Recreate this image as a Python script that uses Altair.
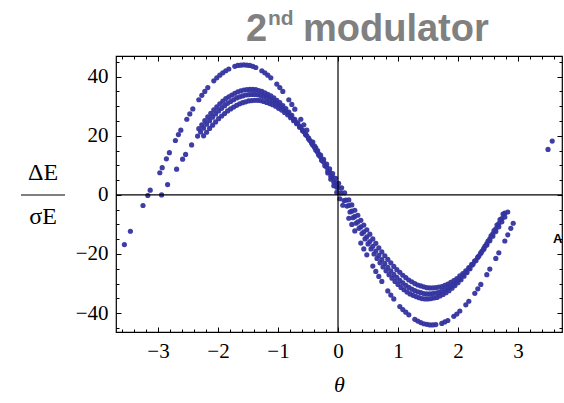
import altair as alt
import pandas as pd

# ---------------- data ----------------
# outer curve (largest amplitude)
OUTER_THETA = [-3.56, -3.46, -3.25, -3.17, -3.13,
               -2.97, -2.93, -2.86, -2.81, -2.71, -2.66, -2.62, -2.52, -2.47, -2.42,
               -2.32, -2.27, -2.22, -2.17, -2.07, -2.02, -1.97, -1.92, -1.87, -1.82,
               -1.72, -1.67, -1.62, -1.57, -1.52, -1.47, -1.42, -1.37, -1.27, -1.22,
               -1.17, -1.12, -1.02, -0.97, -0.92, -0.82, -0.77, -0.72, -0.62, -0.57,
               -0.52, -0.42, -0.37, -0.32, -0.27, -0.17, -0.12, -0.07, -0.02,
               0.03, 0.08, 0.18, 0.23, 0.28, 0.38, 0.43, 0.48, 0.58, 0.63, 0.68, 0.73,
               0.83, 0.88, 0.93, 1.03, 1.08, 1.13, 1.18, 1.28, 1.33, 1.38, 1.43, 1.48,
               1.53, 1.58, 1.63, 1.73, 1.78, 1.83, 1.93, 1.98, 2.03, 2.13, 2.18, 2.28,
               2.33, 2.38, 2.48, 2.53, 2.63, 2.68, 2.78, 2.83, 2.88, 2.92,
               3.50, 3.57]
OUTER_DE = [-16.8, -12.3, -3.6, -0.2, 1.6,
            7.5, 9.2, 12.2, 14.3, 18.4, 20.4, 21.9, 25.6, 27.4, 29.1,
            32.2, 33.7, 35.0, 36.3, 38.6, 39.6, 40.5, 41.3, 42.0, 42.6,
            43.5, 43.8, 43.9, 44.0, 43.9, 43.8, 43.5, 43.1, 42.0, 41.3,
            40.5, 39.6, 37.5, 36.3, 35.0, 32.2, 30.6, 29.0, 25.6, 23.7,
            21.9, 17.9, 15.9, 13.8, 11.7, 7.4, 5.3, 3.1, 0.9,
            -1.3, -3.5, -7.9, -10.0, -12.2, -16.3, -18.3, -20.3, -24.1, -25.9, -27.6, -29.3,
            -32.5, -33.9, -35.2, -37.8, -38.8, -39.7, -40.6, -42.1, -42.7, -43.2, -43.6, -43.8,
            -44.0, -44.0, -43.9, -43.5, -43.0, -42.5, -41.1, -40.3, -39.3, -37.2, -36.0, -33.3,
            -31.8, -30.3, -27.0, -25.1, -21.5, -19.6, -15.6, -13.5, -11.3, -9.6,
            15.4, 18.2]

# inner band, middle strand
MID_THETA = [-2.94, -2.84, -2.69, -2.59, -2.54, -2.44, -2.34,
             -2.29, -2.24, -2.19, -2.14, -2.09, -2.04, -1.99, -1.94, -1.89, -1.84,
             -1.79, -1.74, -1.69, -1.64, -1.59, -1.54, -1.49, -1.44, -1.39, -1.34,
             -1.29, -1.24, -1.19, -1.14, -1.09, -1.04, -0.99, -0.94, -0.89, -0.84,
             -0.79, -0.74, -0.69, -0.64, -0.59, -0.54, -0.49, -0.44, -0.39, -0.34,
             -0.29, -0.24, -0.19, -0.14, -0.09, -0.04, 0.01, 0.06,
             0.13, 0.18, 0.23, 0.28, 0.33, 0.38, 0.43, 0.48, 0.53, 0.58, 0.63, 0.68,
             0.73, 0.78, 0.83, 0.88, 0.93, 0.98, 1.03, 1.08, 1.13, 1.18, 1.23, 1.28,
             1.33, 1.38, 1.43, 1.48, 1.53, 1.58, 1.63, 1.68, 1.73, 1.78, 1.83, 1.88,
             1.93, 1.98, 2.03, 2.08, 2.13, 2.18, 2.23, 2.28, 2.33, 2.38, 2.43, 2.48,
             2.53, 2.58, 2.63, 2.68, 2.73, 2.78]
MID_DE = [0.0, 3.5, 8.7, 12.1, 13.7, 16.9, 19.9,
          21.3, 22.6, 23.9, 25.1, 26.3, 27.4, 28.4, 29.3, 30.2, 31.0,
          31.6, 32.2, 32.8, 33.2, 33.5, 33.8, 33.9, 34.0, 34.0, 33.9,
          33.6, 33.3, 32.9, 32.4, 31.9, 31.2, 30.5, 29.7, 28.8, 27.8,
          26.7, 25.6, 24.4, 23.2, 21.8, 20.4, 19.0, 17.5, 16.0, 14.4,
          12.8, 11.1, 9.4, 7.7, 6.0, 4.2, 2.5, 0.7,
          -1.8, -3.6, -5.5, -7.3, -9.1, -10.8, -12.5, -14.2, -15.8, -17.4, -19.0, -20.5,
          -21.9, -23.2, -24.5, -25.7, -26.9, -27.9, -28.9, -29.8, -30.6, -31.3, -31.9, -32.4,
          -32.8, -33.1, -33.4, -33.5, -33.5, -33.4, -33.2, -33.0, -32.6, -32.1, -31.5, -30.9,
          -30.1, -29.2, -28.3, -27.3, -26.2, -25.0, -23.8, -22.4, -21.1, -19.6, -18.1, -16.5,
          -14.9, -13.2, -11.5, -9.7, -8.0, -6.2]

# inner band, upper strand
UP_THETA = [-2.32, -2.27, -2.22, -2.17, -2.12, -2.07, -2.02, -1.97, -1.92, -1.87,
            -1.82, -1.77, -1.72, -1.67, -1.62, -1.57, -1.52, -1.47, -1.42, -1.37,
            -1.32, -1.27, -1.22, -1.17, -1.12, -1.07, -1.02, -0.97, -0.92, -0.87,
            -0.82, -0.77, -0.72, -0.67, -0.62, -0.57, -0.52, -0.47, -0.42, -0.37,
            -0.32, -0.27, -0.22, -0.17, -0.12, -0.07, -0.02, 0.03,
            0.10, 0.15, 0.20, 0.25, 0.30, 0.35, 0.40, 0.45, 0.50, 0.55, 0.60, 0.65,
            0.70, 0.75, 0.80, 0.85, 0.90, 0.95, 1.00, 1.05, 1.10, 1.15, 1.20, 1.25,
            1.30, 1.35, 1.40, 1.45, 1.50, 1.55, 1.60, 1.65, 1.70, 1.75, 1.80, 1.85,
            1.90, 1.95, 2.00, 2.05, 2.10, 2.15, 2.20, 2.25, 2.30, 2.35, 2.40, 2.45,
            2.50, 2.55, 2.60, 2.65, 2.70, 2.75]
UP_DE = [22.4, 23.7, 25.1, 26.4, 27.6, 28.8, 29.8, 30.8, 31.7, 32.6,
         33.2, 33.8, 34.4, 34.9, 35.2, 35.5, 35.6, 35.7, 35.7, 35.6,
         35.3, 35.0, 34.5, 34.0, 33.5, 32.8, 32.0, 31.2, 30.2, 29.2,
         28.0, 26.9, 25.6, 24.4, 22.9, 21.4, 20.0, 18.4, 16.8, 15.1,
         13.4, 11.7, 9.9, 8.1, 6.3, 4.4, 2.6, 0.7,
         -1.9, -3.8, -5.8, -7.7, -9.6, -11.3, -13.1, -14.9, -16.6, -18.3, -20.0, -21.5,
         -23.0, -24.4, -25.7, -27.0, -28.2, -29.3, -30.3, -31.3, -32.1, -32.9, -33.5, -34.0,
         -34.4, -34.8, -35.1, -35.2, -35.2, -35.1, -34.9, -34.7, -34.2, -33.7, -33.1, -32.4,
         -31.6, -30.7, -29.7, -28.7, -27.5, -26.3, -25.0, -23.5, -22.2, -20.6, -19.0, -17.3,
         -15.6, -13.9, -12.1, -10.2, -8.4, -6.5]

# inner band, lower strand
LOW_THETA = [-2.24, -2.19, -2.14, -2.09, -2.04, -1.99, -1.94, -1.89, -1.84, -1.79,
             -1.74, -1.69, -1.64, -1.59, -1.54, -1.49, -1.44, -1.39, -1.34, -1.29,
             -1.24, -1.19, -1.14, -1.09, -1.04, -0.99, -0.94, -0.89, -0.84, -0.79,
             -0.74, -0.69, -0.64, -0.59, -0.54, -0.49, -0.44, -0.39, -0.34, -0.29,
             -0.24, -0.19, -0.14, -0.09, -0.04, 0.01, 0.06, 0.11,
             0.18, 0.23, 0.28, 0.33, 0.38, 0.43, 0.48, 0.53, 0.58, 0.63, 0.68, 0.73,
             0.78, 0.83, 0.88, 0.93, 0.98, 1.03, 1.08, 1.13, 1.18, 1.23, 1.28, 1.33,
             1.38, 1.43, 1.48, 1.53, 1.58, 1.63, 1.68, 1.73, 1.78, 1.83, 1.88, 1.93,
             1.98, 2.03, 2.08, 2.13, 2.18, 2.23, 2.28, 2.33, 2.38, 2.43, 2.48, 2.53,
             2.58, 2.63, 2.68, 2.73, 2.78, 2.83]
LOW_DE = [20.0, 21.2, 22.5, 23.6, 24.7, 25.8, 26.7, 27.5, 28.4, 29.1,
          29.7, 30.3, 30.8, 31.2, 31.5, 31.8, 31.9, 32.0, 32.0, 31.9,
          31.6, 31.3, 30.9, 30.5, 30.0, 29.3, 28.7, 27.9, 27.1, 26.1,
          25.1, 24.1, 22.9, 21.8, 20.5, 19.2, 17.9, 16.5, 15.0, 13.5,
          12.0, 10.4, 8.8, 7.2, 5.6, 3.9, 2.4, 0.7,
          -1.7, -3.4, -5.2, -6.9, -8.6, -10.2, -11.8, -13.3, -14.9, -16.4, -17.9, -19.3,
          -20.6, -21.8, -23.0, -24.2, -25.3, -26.2, -27.2, -28.0, -28.8, -29.4, -30.0, -30.5,
          -30.8, -31.1, -31.4, -31.5, -31.5, -31.4, -31.2, -31.0, -30.6, -30.2, -29.6, -29.0,
          -28.3, -27.4, -26.6, -25.7, -24.6, -23.5, -22.4, -21.1, -19.8, -18.4, -17.0, -15.5,
          -14.0, -12.4, -10.8, -9.1, -7.5, -5.8]

# axis ticks / domains
X_DOMAIN = [-3.7, 3.733]
Y_DOMAIN = [-46.4, 47.0]
X_MAJOR = [-3, -2, -1, 0, 1, 2, 3]
X_MINOR = [-3.6, -3.4, -3.2, -2.8, -2.6, -2.4, -2.2, -1.8, -1.6, -1.4, -1.2,
           -0.8, -0.6, -0.4, -0.2, 0.2, 0.4, 0.6, 0.8, 1.2, 1.4, 1.6, 1.8,
           2.2, 2.4, 2.6, 2.8, 3.2, 3.4, 3.6]
Y_MAJOR = [-40, -20, 0, 20, 40]
Y_MINOR = [-45, -35, -30, -25, -15, -10, -5, 5, 10, 15, 25, 30, 35, 45]

# ---------------- build ----------------
rows = []
for name, ts, vs in [("outer", OUTER_THETA, OUTER_DE), ("mid", MID_THETA, MID_DE),
                     ("up", UP_THETA, UP_DE), ("low", LOW_THETA, LOW_DE)]:
    for t, v in zip(ts, vs):
        rows.append({"theta": t, "de": v, "strand": name})
df = pd.DataFrame(rows)

xs = alt.Scale(domain=X_DOMAIN, nice=False, zero=False)
ys = alt.Scale(domain=Y_DOMAIN, nice=False, zero=False)
SERIF = "Liberation Serif"
DOT = "#3434a0"

points = alt.Chart(df).mark_circle(size=27, color=DOT, opacity=0.95).encode(
    x=alt.X("theta:Q", scale=xs,
            axis=alt.Axis(orient="bottom", values=X_MAJOR, format="d", ticks=False,
                          domain=False, grid=False, labelFont=SERIF, labelFontSize=21,
                          labelColor="black", labelPadding=8, title="θ",
                          titleFont=SERIF, titleFontStyle="italic", titleFontSize=22,
                          titleFontWeight="normal", titleColor="black", titlePadding=13)),
    y=alt.Y("de:Q", scale=ys,
            axis=alt.Axis(orient="left", values=Y_MAJOR, format="d", ticks=False,
                          domain=False, grid=False, labelFont=SERIF, labelFontSize=21,
                          labelColor="black", labelPadding=8, title=None)),
)

corner = pd.DataFrame({"theta": X_DOMAIN, "de": Y_DOMAIN})


def tick_layer(xo, yo, xv, yv, size):
    return alt.Chart(corner).mark_point(opacity=0).encode(
        x=alt.X("theta:Q", scale=xs,
                axis=alt.Axis(orient=xo, values=xv, labels=False, domain=False, grid=False,
                              ticks=True, tickSize=size, tickColor="black", tickWidth=1,
                              offset=-size, title=None)),
        y=alt.Y("de:Q", scale=ys,
                axis=alt.Axis(orient=yo, values=yv, labels=False, domain=False, grid=False,
                              ticks=True, tickSize=size, tickColor="black", tickWidth=1,
                              offset=-size, title=None)),
    )


ticks = [
    tick_layer("bottom", "left", X_MAJOR, Y_MAJOR, 5),
    tick_layer("bottom", "left", X_MINOR, Y_MINOR, 3),
    tick_layer("top", "right", X_MAJOR, Y_MAJOR, 5),
    tick_layer("top", "right", X_MINOR, Y_MINOR, 3),
]

vline = alt.Chart(pd.DataFrame({"theta": [0]})).mark_rule(color="black", strokeWidth=1.2).encode(
    x=alt.X("theta:Q", scale=xs, axis=None))
hline = alt.Chart(pd.DataFrame({"de": [0]})).mark_rule(color="black", strokeWidth=1.2).encode(
    y=alt.Y("de:Q", scale=ys, axis=None))


def label(txt, x, y, size, font, weight="normal", color="black", align="left", baseline="alphabetic"):
    return alt.Chart(pd.DataFrame({"t": [txt]})).mark_text(
        font=font, fontSize=size, fontWeight=weight, color=color, align=align, baseline=baseline
    ).encode(text="t:N", x=alt.value(x), y=alt.value(y))


GRAY = "#808080"
title_parts = [
    label("2", 130, -15, 38, "Liberation Sans", "bold", GRAY),
    label("nd", 152, -31, 21, "Liberation Sans", "bold", GRAY),
    label("modulator", 187, -15, 38, "Liberation Sans", "bold", GRAY),
]
ylab = [
    label("ΔE", -73, 117, 24, SERIF, align="center", baseline="middle"),
    label("σE", -73, 161, 24, SERIF, align="center", baseline="middle"),
    alt.Chart(pd.DataFrame({"a": [0]})).mark_rule(color="black", strokeWidth=1).encode(
        x=alt.value(-95), x2=alt.value(-51), y=alt.value(139)),
    label("A", 437, 187, 13, "Liberation Sans", "bold"),
]

chart = alt.layer(
    points, *ticks, vline, hline, *title_parts, *ylab
).resolve_axis(x="independent", y="independent").properties(
    width=446, height=276,
    autosize=alt.AutoSizeParams(type="none"),
    padding={"left": 116, "top": 56, "right": 2, "bottom": 71},
    background="white",
).configure_view(stroke="black", strokeWidth=1.2)

chart.save("out.html", embed_options={"renderer": "svg", "actions": False})
